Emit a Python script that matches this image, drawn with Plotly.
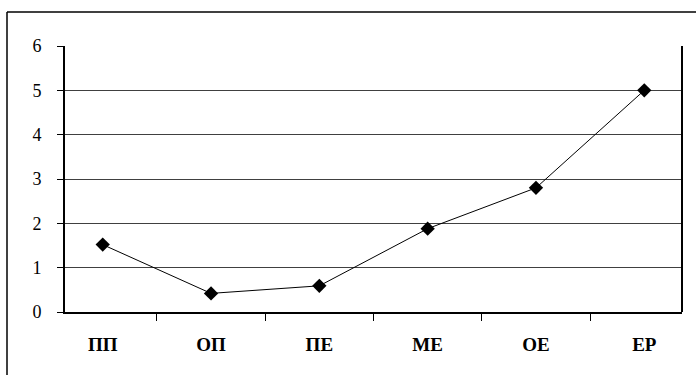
import plotly.graph_objects as go

categories = ["ПП", "ОП", "ПЕ", "МЕ", "ОЕ", "ЕР"]
values = [1.52, 0.42, 0.59, 1.88, 2.8, 5.0]
y_ticks = [0, 1, 2, 3, 4, 5, 6]

fig = go.Figure()
fig.add_trace(go.Scatter(
    x=categories, y=values, mode="lines+markers",
    line=dict(color="black", width=1),
    marker=dict(symbol="diamond", size=11, color="black"),
    showlegend=False,
))

W, H = 696, 375
L, R, T, B = 65, 682, 46, 312
SERIF = "Liberation Serif, Times New Roman, serif"

def px(x):
    return (x - L) / (R - L)

def py(y):
    return (B - y) / (B - T)

fig.update_layout(
    width=W, height=H,
    margin=dict(l=L, r=W - R, t=T, b=H - B),
    paper_bgcolor="white", plot_bgcolor="white",
    font=dict(family=SERIF, color="black"),
    xaxis=dict(
        type="category",
        showline=True, linecolor="black", linewidth=2,
        ticks="outside", tickson="boundaries", ticklen=7, tickwidth=1, tickcolor="black",
        showgrid=False,
        tickfont=dict(size=19, family=SERIF, weight="bold"),
        ticklabelstandoff=14,
    ),
    yaxis=dict(
        range=[0, 6], tickvals=y_ticks,
        showline=True, linecolor="black", linewidth=2,
        ticks="outside", ticklen=6, tickwidth=1, tickcolor="black",
        showgrid=True, gridcolor="#404040", gridwidth=1,
        zeroline=False,
        tickfont=dict(size=18, family=SERIF),
        ticklabelstandoff=12,
    ),
    shapes=[
        dict(type="line", xref="paper", yref="paper", x0=1, x1=1, y0=0, y1=1,
             line=dict(color="black", width=2)),
        dict(type="line", xref="paper", yref="paper", x0=px(7), x1=px(7),
             y0=py(12), y1=py(380), line=dict(color="black", width=1.5)),
        dict(type="line", xref="paper", yref="paper", x0=px(7), x1=px(700),
             y0=py(12), y1=py(12), line=dict(color="black", width=1.5)),
    ],
)

fig.write_html("out.html", config={"displayModeBar": False},
               post_script="document.body.style.margin='0px';")
